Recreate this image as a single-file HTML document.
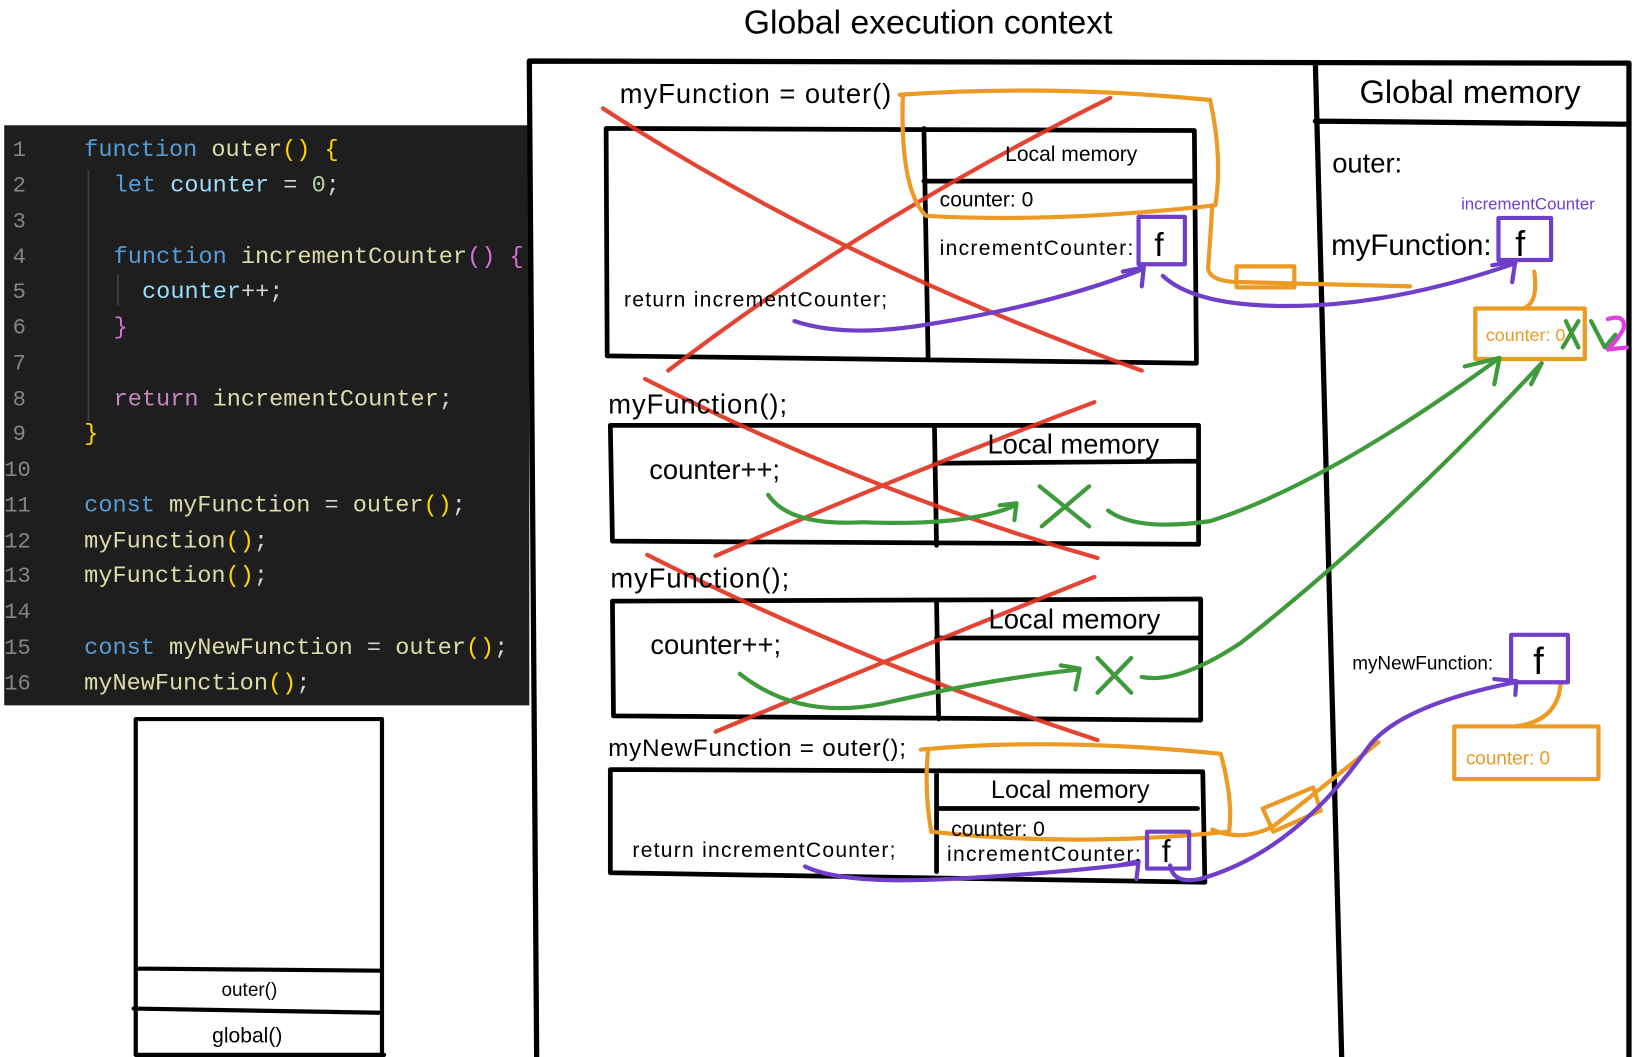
<!DOCTYPE html>
<html><head><meta charset="utf-8"><style>
html,body{margin:0;padding:0;background:#fff;}
svg{display:block;}
text{font-family:"Liberation Sans",sans-serif;}
.mono text, .mono tspan{font-family:"Liberation Mono","DejaVu Sans Mono",monospace;}
</style></head><body>
<svg width="1650" height="1057" viewBox="0 0 1568 1004" preserveAspectRatio="none" xmlns="http://www.w3.org/2000/svg">
<rect x="4" y="119" width="499" height="551" fill="#1e1e1e" stroke="none"/>
<g class="mono" font-size="22.4">
<g fill="#858585" font-size="21">
<text x="12" y="148">1</text><text x="12" y="182">2</text><text x="12" y="216">3</text><text x="12" y="250">4</text>
<text x="12" y="283">5</text><text x="12" y="317">6</text><text x="12" y="351">7</text><text x="12" y="385">8</text>
<text x="12" y="418">9</text><text x="4" y="452">10</text><text x="4" y="486">11</text><text x="4" y="520">12</text>
<text x="4" y="553">13</text><text x="4" y="587">14</text><text x="4" y="621">15</text><text x="4" y="655">16</text>
</g>
<text x="80" y="148"><tspan fill="#569cd6">function</tspan><tspan fill="#dcdcaa"> outer</tspan><tspan fill="#ffd700">() {</tspan></text>
<text x="108" y="182"><tspan fill="#569cd6">let</tspan><tspan fill="#9cdcfe"> counter</tspan><tspan fill="#d4d4d4"> = </tspan><tspan fill="#b5cea8">0</tspan><tspan fill="#d4d4d4">;</tspan></text>
<text x="108" y="250"><tspan fill="#569cd6">function</tspan><tspan fill="#dcdcaa"> incrementCounter</tspan><tspan fill="#da70d6">() {</tspan></text>
<text x="135" y="283"><tspan fill="#9cdcfe">counter</tspan><tspan fill="#d4d4d4">++;</tspan></text>
<text x="108" y="317" fill="#da70d6">}</text>
<text x="108" y="385"><tspan fill="#c586c0">return</tspan><tspan fill="#dcdcaa"> incrementCounter</tspan><tspan fill="#d4d4d4">;</tspan></text>
<text x="80" y="418" fill="#ffd700">}</text>
<text x="80" y="486"><tspan fill="#569cd6">const</tspan><tspan fill="#dcdcaa"> myFunction</tspan><tspan fill="#d4d4d4"> = </tspan><tspan fill="#dcdcaa">outer</tspan><tspan fill="#ffd700">()</tspan><tspan fill="#d4d4d4">;</tspan></text>
<text x="80" y="520"><tspan fill="#dcdcaa">myFunction</tspan><tspan fill="#ffd700">()</tspan><tspan fill="#d4d4d4">;</tspan></text>
<text x="80" y="553"><tspan fill="#dcdcaa">myFunction</tspan><tspan fill="#ffd700">()</tspan><tspan fill="#d4d4d4">;</tspan></text>
<text x="80" y="621"><tspan fill="#569cd6">const</tspan><tspan fill="#dcdcaa"> myNewFunction</tspan><tspan fill="#d4d4d4"> = </tspan><tspan fill="#dcdcaa">outer</tspan><tspan fill="#ffd700">()</tspan><tspan fill="#d4d4d4">;</tspan></text>
<text x="80" y="655"><tspan fill="#dcdcaa">myNewFunction</tspan><tspan fill="#ffd700">()</tspan><tspan fill="#d4d4d4">;</tspan></text>
</g>
<g stroke="#444" stroke-width="1.5"><line x1="84" y1="162" x2="84" y2="400"/><line x1="112" y1="260" x2="112" y2="290"/></g>

<g fill="none" stroke-linecap="round" stroke-linejoin="round">
<g stroke="#000" stroke-width="4">
<path d="M129 683 L363 683 L363 1004 M129 683 L129 1002 L365 1002 M129 920 L362 922 M127 958 L362 962"/>
</g>
<g stroke="#000" stroke-width="5">
<path d="M503 58 L1548 60 L1548 1004 M503 58 L510 1004 M1250 60 L1275 1004 M1250 115 L1548 118"/>
</g>
<g stroke="#000" stroke-width="4.5">
<path d="M576 122 L1135 124 L1137 345 L577 338 Z M878 122 L882 340 M878 172 L1135 172"/>
<path d="M580 404 L1139 404 L1139 517 L582 514 Z M888 404 L890 518 M888 440 L1139 438"/>
<path d="M582 571 L1141 569 L1141 684 L583 680 Z M890 571 L892 683 M890 606 L1141 606"/>
<path d="M580 731 L1143 733 L1145 838 L580 829 Z M890 735 L890 828 M890 768 L1138 768"/>
</g>
<g stroke="#e0301e" stroke-width="4" opacity="0.9">
<path d="M573 103 Q800 250 1085 352"/><path d="M1055 93 Q820 210 635 352"/>
<path d="M613 360 Q830 470 1043 530"/><path d="M1040 382 Q860 450 680 528"/>
<path d="M615 527 Q820 630 1043 703"/><path d="M1040 548 Q860 620 680 695"/>
</g>
<g stroke="#eb9a23" stroke-width="4">
<path d="M855 90 Q1000 80 1150 95 Q1162 150 1155 195 Q1000 212 880 205 Q855 180 858 90"/>
<path d="M1152 195 Q1150 230 1148 255 Q1150 268 1180 268 L1340 272"/>
<rect x="1175" y="253" width="55" height="20"/>
<path d="M1458 258 Q1462 285 1450 292"/>
<rect x="1402" y="293" width="104" height="48"/>
<path d="M875 712 Q1000 700 1160 716 Q1172 760 1168 790 Q1020 805 885 790 Q878 750 882 712"/>
<path d="M1152 788 Q1180 800 1210 785 L1310 705"/>
<path d="M1200 768 L1248 748 L1255 770 L1210 790 Z"/>
<path d="M1483 650 Q1480 685 1440 690"/>
<rect x="1382" y="690" width="137" height="50"/>
</g>
<g stroke="#6f3fc9" stroke-width="4">
<rect x="1082" y="206" width="44" height="45"/>
<rect x="1424" y="207" width="50" height="40"/>
<rect x="1436" y="603" width="54" height="45"/>
<rect x="1090" y="790" width="40" height="35"/>
<path d="M755 305 Q800 320 870 310 Q1000 290 1085 256"/><path d="M1067 258 L1087 254 L1085 272"/>
<path d="M1105 262 Q1140 295 1250 290 Q1340 285 1440 250"/><path d="M1418 252 L1440 248 L1437 268"/>
<path d="M765 823 Q800 840 900 835 Q1000 830 1080 820"/><path d="M1063 822 L1082 818 L1080 835"/>
<path d="M1112 822 Q1115 840 1140 835 Q1230 810 1300 710 Q1330 670 1440 648"/><path d="M1420 645 L1441 647 L1440 660"/>
</g>
<g stroke="#3e9a3a" stroke-width="4">
<path d="M730 470 Q750 500 820 496 Q920 500 965 480"/><path d="M950 480 L966 478 L964 494"/>
<path d="M988 462 L1035 500 M1035 462 L990 500"/>
<path d="M1053 485 Q1080 505 1150 495 Q1260 460 1425 340"/><path d="M1392 348 L1425 340 L1420 365"/>
<path d="M703 640 Q760 685 840 668 Q940 645 1025 636"/><path d="M1008 632 L1026 635 L1022 655"/>
<path d="M1043 625 L1075 658 M1075 625 L1043 658"/>
<path d="M1085 643 Q1120 650 1180 610 Q1320 500 1465 345"/><path d="M1455 365 L1465 345"/>
<path d="M1488 305 L1500 330 M1500 305 L1485 330"/><path d="M1512 305 L1525 330 L1535 318"/>
</g>
<path d="M1528 303 Q1545 298 1543 312 Q1538 322 1528 332 L1546 330" stroke="#e040e0" stroke-width="4"/>
</g>

<g fill="#000">
<text x="882" y="32" font-size="32" text-anchor="middle">Global execution context</text>
<text x="1397" y="98" font-size="31" text-anchor="middle">Global memory</text>
<text x="1266" y="164" font-size="26">outer:</text>
<text x="1265" y="242" font-size="28">myFunction:</text>
<text x="1440" y="243" font-size="34">f</text>
<text x="1285" y="636" font-size="18">myNewFunction:</text>
<text x="1457" y="640" font-size="36">f</text>

<text x="589" y="98" font-size="26" textLength="258">myFunction = outer()</text>
<text x="1018" y="153" font-size="20" text-anchor="middle">Local memory</text>
<text x="893" y="196" font-size="20">counter: 0</text>
<text x="893" y="242" font-size="20" textLength="184">incrementCounter:</text>
<text x="1097" y="243" font-size="32">f</text>
<text x="593" y="291" font-size="20" textLength="250">return incrementCounter;</text>

<text x="578" y="393" font-size="26" textLength="170">myFunction();</text>
<text x="1020" y="431" font-size="26" text-anchor="middle">Local memory</text>
<text x="617" y="455" font-size="26">counter++;</text>

<text x="580" y="558" font-size="26" textLength="170">myFunction();</text>
<text x="1021" y="597" font-size="26" text-anchor="middle">Local memory</text>
<text x="618" y="621" font-size="26">counter++;</text>

<text x="578" y="718" font-size="23" textLength="283">myNewFunction = outer();</text>
<text x="1017" y="758" font-size="24" text-anchor="middle">Local memory</text>
<text x="904" y="794" font-size="20">counter: 0</text>
<text x="900" y="818" font-size="20" textLength="184">incrementCounter:</text>
<text x="1104" y="819" font-size="30">f</text>
<text x="601" y="814" font-size="20" textLength="250">return incrementCounter;</text>

<text x="237" y="946" font-size="18" text-anchor="middle">outer()</text>
<text x="235" y="990" font-size="20" text-anchor="middle">global()</text>
</g>
<text x="1452" y="199" font-size="16" fill="#6f3fc9" text-anchor="middle">incrementCounter</text>
<text x="1412" y="324" font-size="17" fill="#eb9a23">counter: 0</text>
<text x="1393" y="726" font-size="18" fill="#eb9a23">counter: 0</text>
</svg>
</body></html>
